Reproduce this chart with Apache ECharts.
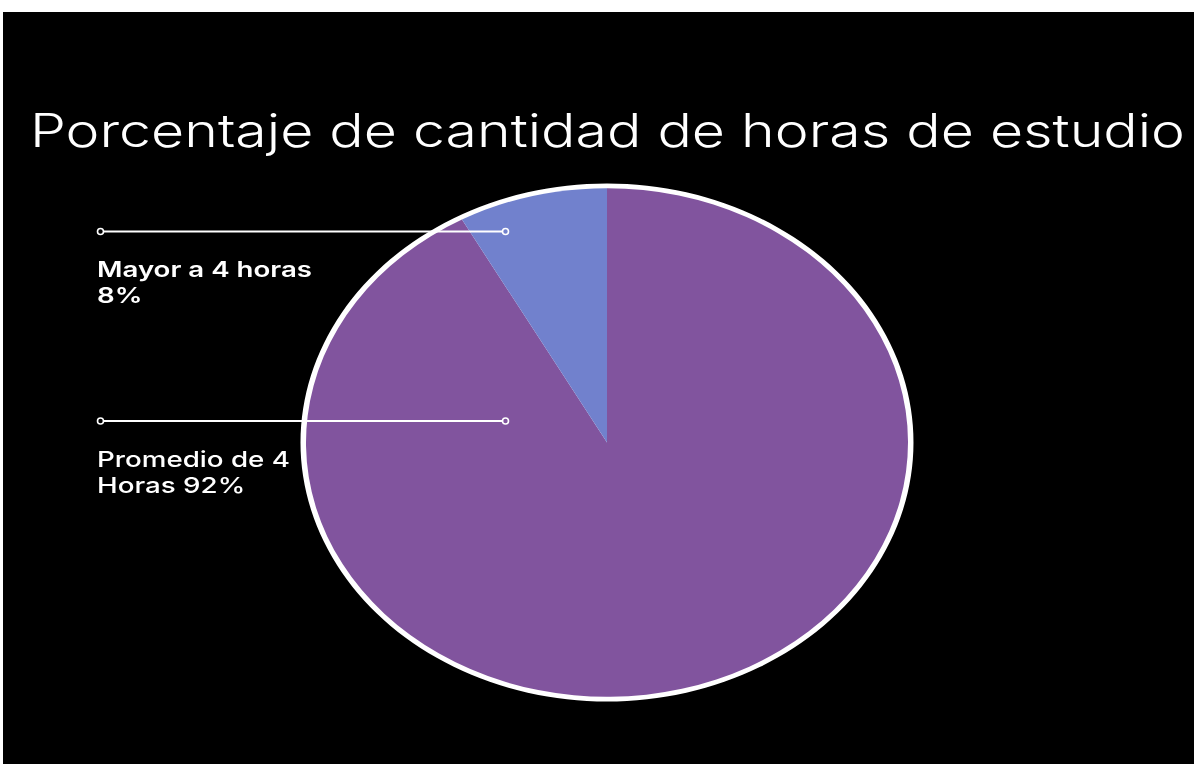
<!DOCTYPE html>
<html><head><meta charset="utf-8">
<script src="https://cdn.jsdelivr.net/npm/echarts@6/dist/echarts.min.js"></script>
<style>
html,body{margin:0;padding:0;background:#fff;width:1194px;height:764px;overflow:hidden}
#frame{position:absolute;left:3px;top:12px;width:1191px;height:752px;background:#000}
#pie{position:absolute;left:0;top:0;width:1194px;height:764px;transform-origin:607px 442.5px;transform:scaleY(0.845)}
#txt{position:absolute;left:0;top:0;width:1194px;height:764px}
</style></head><body>
<div id="frame"></div><div id="pie"></div><div id="txt"></div>
<script>
const titleText = 'Porcentaje de cantidad de horas de estudio';
const categories = ['Promedio de 4 Horas', 'Mayor a 4 horas'];
const values = [92, 8];
const colors = ['#81549E', '#7181CD'];
const labelTexts = [['Promedio de 4', 'Horas 92%'], ['Mayor a 4 horas', '8%']];

// ---------- pie (drawn as a circle, then squashed to the reference ellipse) ----------
const pie = echarts.init(document.getElementById('pie'), null, {renderer: 'svg'});
pie.setOption({
  animation: false,
  backgroundColor: 'transparent',
  series: [
    {
      type: 'pie', center: [607, 442.5], radius: 306.5, silent: true,
      label: {show: false}, labelLine: {show: false},
      data: [{value: 1, name: 'ring', itemStyle: {color: '#ffffff'}}]
    },
    {
      type: 'pie', center: [607, 442.5], radius: 301, startAngle: 90, clockwise: true,
      label: {show: false}, labelLine: {show: false},
      itemStyle: {borderWidth: 0},
      emphasis: {disabled: true},
      data: categories.map((c, i) => ({name: c, value: values[i], itemStyle: {color: colors[i]}}))
    }
  ]
});

// ---------- text and leader lines ----------
const ctx = document.createElement('canvas').getContext('2d');
function fit(text, font, width) { ctx.font = font; return width / ctx.measureText(text).width; }

const titleFont = '300 46px Inter';
const tScale = fit(titleText, titleFont, 1155);
const boldFont = '600 22px Inter';
const regFont = '500 22px Inter';
const s1 = fit(labelTexts[1][0], boldFont, 215);
const s0 = fit(labelTexts[0][0], regFont, 193);

function txt(text, x, y, font, sx) {
  return {type: 'text', x: x, y: y, scaleX: sx,
    style: {text: text, x: 0, y: 0, fill: '#ffffff', font: font, align: 'left', verticalAlign: 'middle'}};
}
function leader(y) {
  return [
    {type: 'line', shape: {x1: 104, y1: y, x2: 502, y2: y}, style: {stroke: '#ffffff', lineWidth: 2}},
    {type: 'circle', shape: {cx: 100.5, cy: y, r: 3}, style: {fill: 'none', stroke: '#ffffff', lineWidth: 1.6}},
    {type: 'circle', shape: {cx: 505.5, cy: y, r: 3}, style: {fill: 'none', stroke: '#ffffff', lineWidth: 1.6}}
  ];
}

const txtChart = echarts.init(document.getElementById('txt'));
txtChart.setOption({
  animation: false,
  backgroundColor: 'transparent',
  graphic: {elements: [
    txt(titleText, 30, 133, titleFont, tScale),
    ...leader(231.5),
    txt(labelTexts[1][0], 97, 270.5, boldFont, s1),
    txt(labelTexts[1][1], 97, 296.5, boldFont, s1),
    ...leader(421),
    txt(labelTexts[0][0], 97, 460, regFont, s0),
    txt(labelTexts[0][1], 97, 486, regFont, s0)
  ]}
});
</script>
</body></html>
